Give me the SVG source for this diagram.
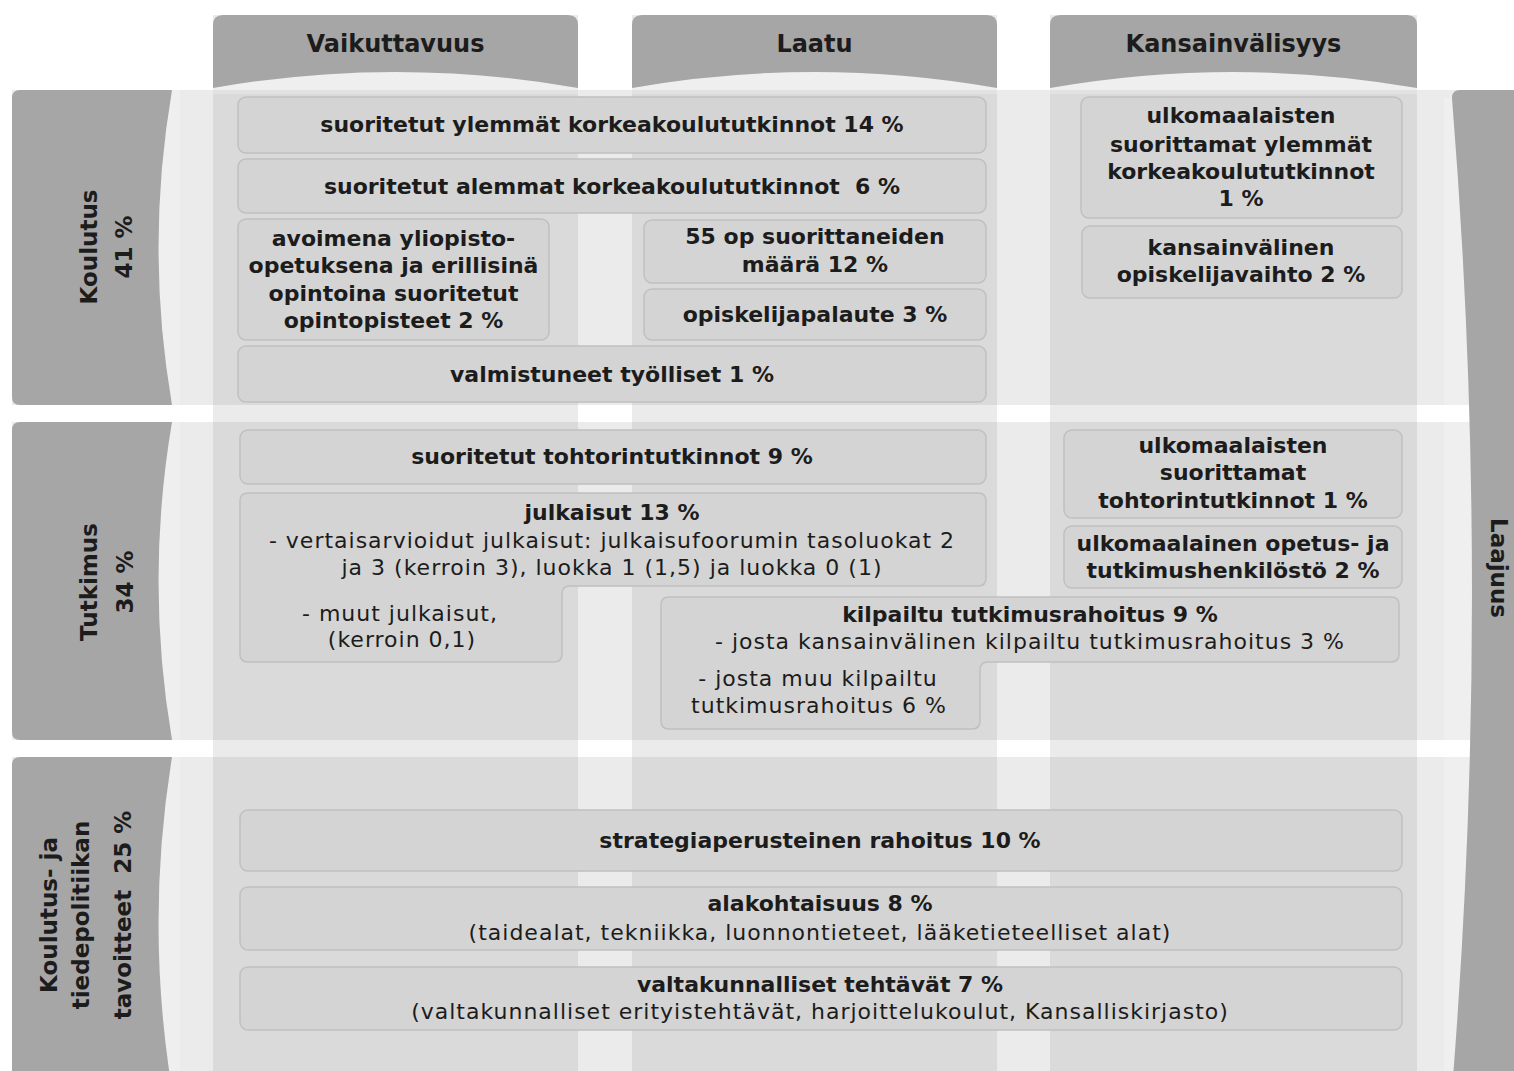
<svg xmlns="http://www.w3.org/2000/svg" width="1514" height="1071" viewBox="0 0 1514 1071">
<style>
text{font-family:"DejaVu Sans","Liberation Sans",sans-serif;fill:#1c1c1c;text-anchor:middle}
.b{font-weight:bold;font-size:22px}
.r{font-size:22px;letter-spacing:1px}
.h{font-weight:bold;font-size:24px}
.lt{font-weight:bold;font-size:23px}
.dark{fill:#a6a6a6}
.band{fill:#808080;opacity:0.16}
.glow{fill:#ffffff;opacity:0.22}
.box{fill:#d4d4d4;stroke:#c0c0c0;stroke-width:1.5}
</style>
<rect width="1514" height="1071" fill="#ffffff"/>

<!-- column bodies -->
<g id="columns">
<rect class="band" x="213" y="15" width="365" height="1070"/>
<rect class="band" x="632" y="15" width="365" height="1070"/>
<rect class="band" x="1050" y="15" width="367" height="1070"/>
</g>
<!-- row bands -->
<g id="rows">
<rect class="band" x="12" y="90" width="1470" height="315"/>
<rect class="band" x="12" y="422" width="1470" height="318"/>
<rect class="band" x="12" y="757" width="1470" height="330"/>
</g>

<!-- headers -->
<g id="hdr-vaikuttavuus">
<path class="glow" d="M213 88 Q395.5 56 578 88 V94 H213 Z"/>
<path class="dark" d="M213 88 V25 Q213 15 223 15 H568 Q578 15 578 25 V88 Q395.5 56 213 88 Z"/>
<text class="h" x="395.5" y="52">Vaikuttavuus</text>
</g>
<g id="hdr-laatu">
<path class="glow" d="M632 88 Q814.5 56 997 88 V94 H632 Z"/>
<path class="dark" d="M632 88 V25 Q632 15 642 15 H987 Q997 15 997 25 V88 Q814.5 56 632 88 Z"/>
<text class="h" x="814.5" y="52">Laatu</text>
</g>
<g id="hdr-kansainvalisyys">
<path class="glow" d="M1050 88 Q1233.5 56 1417 88 V94 H1050 Z"/>
<path class="dark" d="M1050 88 V25 Q1050 15 1060 15 H1407 Q1417 15 1417 25 V88 Q1233.5 56 1050 88 Z"/>
<text class="h" x="1233.5" y="52">Kansainvälisyys</text>
</g>

<!-- row labels -->
<g id="lbl-koulutus">
<path class="glow" d="M172 90 Q145 247.5 172 405 H180 V90 Z"/>
<path class="dark" d="M172 90 H20 Q12 90 12 98 V397 Q12 405 20 405 H172 Q145 247.5 172 90 Z"/>
<text class="lt" transform="translate(97,247) rotate(-90)">Koulutus</text>
<text class="lt" transform="translate(132,247) rotate(-90)">41 %</text>
</g>
<g id="lbl-tutkimus">
<path class="glow" d="M172 422 Q145 581 172 740 H180 V422 Z"/>
<path class="dark" d="M172 422 H20 Q12 422 12 430 V732 Q12 740 20 740 H172 Q145 581 172 422 Z"/>
<text class="lt" transform="translate(97,582) rotate(-90)">Tutkimus</text>
<text class="lt" transform="translate(133,582) rotate(-90)">34 %</text>
</g>
<g id="lbl-tavoitteet">
<path class="glow" d="M172 757 Q145 923 172 1090 H180 V757 Z"/>
<path class="dark" d="M172 757 H20 Q12 757 12 765 V1090 H172 Q145 923 172 757 Z"/>
<text class="lt" transform="translate(57,915) rotate(-90)">Koulutus- ja</text>
<text class="lt" transform="translate(89,915) rotate(-90)">tiedepolitiikan</text>
<text class="lt" transform="translate(131,915) rotate(-90)" xml:space="preserve">tavoitteet  25 %</text>
</g>
<g id="lbl-laajuus">
<path class="glow" d="M1452 98 Q1492 594 1452 1090 H1444 V98 Z"/>
<path class="dark" d="M1460 90 H1514 V1090 H1452 Q1492 594 1452 98 Q1452 90 1460 90 Z"/>
<text class="lt" transform="translate(1491,568) rotate(90)">Laajuus</text>
</g>

<!-- Koulutus boxes -->
<g id="n-ylemmat">
<rect class="box" x="238" y="97" width="748" height="56" rx="8"/>
<text class="b" x="612" y="132">suoritetut ylemmät korkeakoulututkinnot 14 %</text>
</g>
<g id="n-alemmat">
<rect class="box" x="238" y="159" width="748" height="54" rx="8"/>
<text class="b" x="612" y="194" xml:space="preserve">suoritetut alemmat korkeakoulututkinnot  6 %</text>
</g>
<g id="n-avoin">
<rect class="box" x="238" y="219" width="311" height="121" rx="8"/>
<text class="b" x="393.5" y="246">avoimena yliopisto-</text>
<text class="b" x="393.5" y="273">opetuksena ja erillisinä</text>
<text class="b" x="393.5" y="301">opintoina suoritetut</text>
<text class="b" x="393.5" y="328">opintopisteet 2 %</text>
</g>
<g id="n-55op">
<rect class="box" x="644" y="220" width="342" height="63" rx="8"/>
<text class="b" x="815" y="244">55 op suorittaneiden</text>
<text class="b" x="815" y="272">määrä 12 %</text>
</g>
<g id="n-palaute">
<rect class="box" x="644" y="289" width="342" height="51" rx="8"/>
<text class="b" x="815" y="322">opiskelijapalaute 3 %</text>
</g>
<g id="n-tyolliset">
<rect class="box" x="238" y="346" width="748" height="56" rx="8"/>
<text class="b" x="612" y="382">valmistuneet työlliset 1 %</text>
</g>
<g id="n-ulk-ylemmat">
<rect class="box" x="1081" y="97" width="321" height="121" rx="8"/>
<text class="b" x="1241" y="123">ulkomaalaisten</text>
<text class="b" x="1241" y="152">suorittamat ylemmät</text>
<text class="b" x="1241" y="179">korkeakoulututkinnot</text>
<text class="b" x="1241" y="206">1 %</text>
</g>
<g id="n-vaihto">
<rect class="box" x="1082" y="226" width="320" height="72" rx="8"/>
<text class="b" x="1241" y="255">kansainvälinen</text>
<text class="b" x="1241" y="282">opiskelijavaihto 2 %</text>
</g>

<!-- Tutkimus boxes -->
<g id="n-tohtori">
<rect class="box" x="240" y="430" width="746" height="54" rx="8"/>
<text class="b" x="612" y="464">suoritetut tohtorintutkinnot 9 %</text>
</g>
<g id="n-julkaisut">
<path class="box" d="M248 493 H978 Q986 493 986 501 V578 Q986 586 978 586 H570 Q562 586 562 594 V654 Q562 662 554 662 H248 Q240 662 240 654 V501 Q240 493 248 493 Z"/>
<text class="b" x="612" y="520">julkaisut 13 %</text>
<text class="r" x="612" y="548">- vertaisarvioidut julkaisut: julkaisufoorumin tasoluokat 2</text>
<text class="r" x="612" y="575">ja 3 (kerroin 3), luokka 1 (1,5) ja luokka 0 (1)</text>
<text class="r" x="400" y="621">- muut julkaisut,</text>
<text class="r" x="402" y="647">(kerroin 0,1)</text>
</g>
<g id="n-kilpailtu">
<path class="box" d="M669 597 H1391 Q1399 597 1399 605 V654 Q1399 662 1391 662 H988 Q980 662 980 670 V721 Q980 729 972 729 H669 Q661 729 661 721 V605 Q661 597 669 597 Z"/>
<text class="b" x="1030" y="622">kilpailtu tutkimusrahoitus 9 %</text>
<text class="r" x="1030" y="649">- josta kansainvälinen kilpailtu tutkimusrahoitus 3 %</text>
<text class="r" x="818" y="686">- josta muu kilpailtu</text>
<text class="r" x="819" y="713">tutkimusrahoitus 6 %</text>
</g>
<g id="n-ulk-tohtori">
<rect class="box" x="1064" y="430" width="338" height="88" rx="8"/>
<text class="b" x="1233" y="453">ulkomaalaisten</text>
<text class="b" x="1233" y="480">suorittamat</text>
<text class="b" x="1233" y="508">tohtorintutkinnot 1 %</text>
</g>
<g id="n-henkilosto">
<rect class="box" x="1064" y="526" width="338" height="62" rx="8"/>
<text class="b" x="1233" y="551">ulkomaalainen opetus- ja</text>
<text class="b" x="1233" y="578">tutkimushenkilöstö 2 %</text>
</g>

<!-- Tavoitteet boxes -->
<g id="n-strategia">
<rect class="box" x="240" y="810" width="1162" height="61" rx="8"/>
<text class="b" x="820" y="848">strategiaperusteinen rahoitus 10 %</text>
</g>
<g id="n-alakohtaisuus">
<rect class="box" x="240" y="887" width="1162" height="63" rx="8"/>
<text class="b" x="820" y="911">alakohtaisuus 8 %</text>
<text class="r" x="820" y="940">(taidealat, tekniikka, luonnontieteet, lääketieteelliset alat)</text>
</g>
<g id="n-valtakunnalliset">
<rect class="box" x="240" y="967" width="1162" height="63" rx="8"/>
<text class="b" x="820" y="992">valtakunnalliset tehtävät 7 %</text>
<text class="r" x="820" y="1019">(valtakunnalliset erityistehtävät, harjoittelukoulut, Kansalliskirjasto)</text>
</g>
<g id="connectors"/>
</svg>
